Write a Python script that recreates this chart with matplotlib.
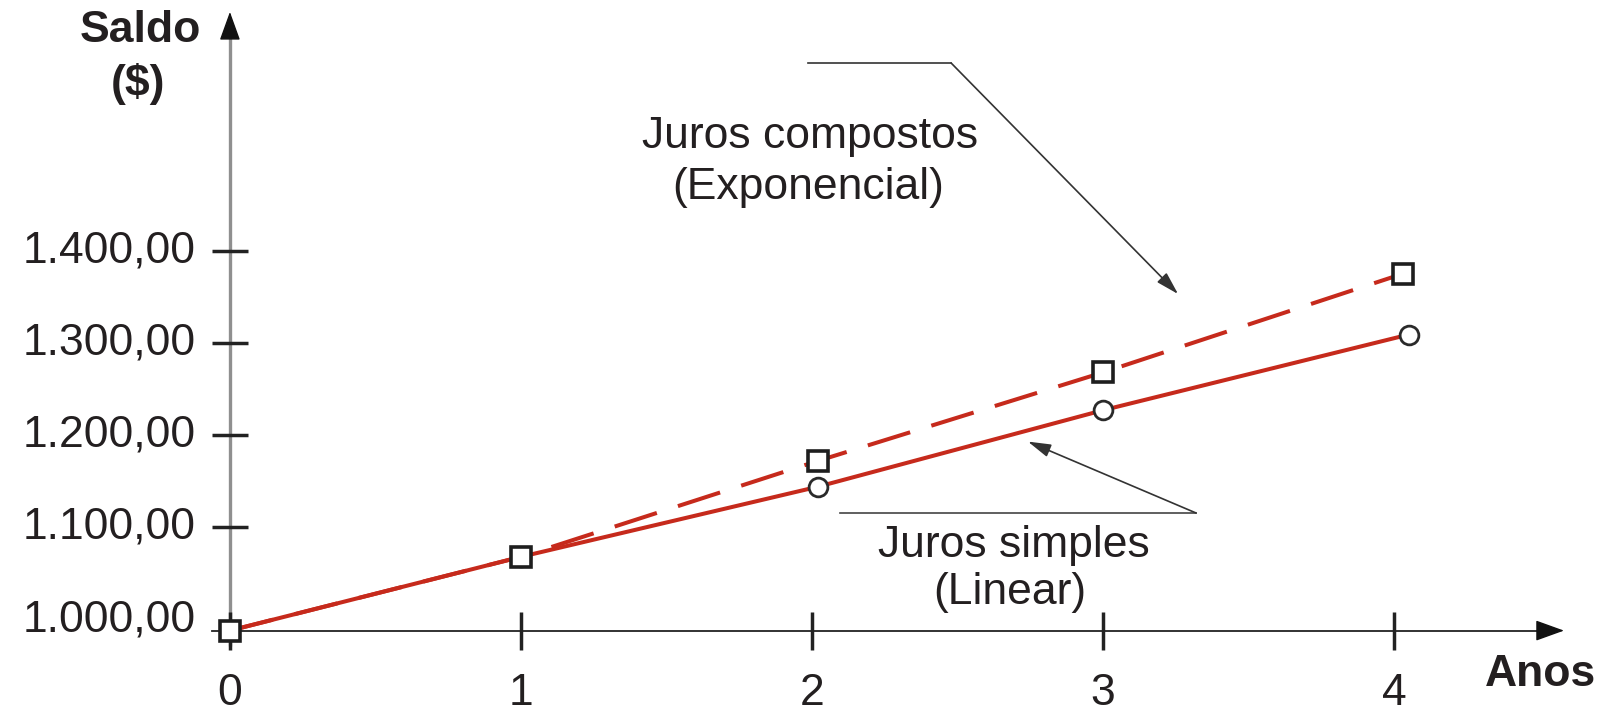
import numpy as np
import matplotlib.pyplot as plt

plt.rcParams['font.family'] = ['Liberation Sans', 'DejaVu Sans']

# dados
anos = [0, 1, 2, 3, 4]
anos_compostos = [0, 1, 2.02, 3.0, 4.03]
anos_simples = [0, 1, 2.02, 3.0, 4.05]
saldo_compostos = [988, 1068, 1172, 1268, 1375]
saldo_simples = [988, 1068, 1144, 1227, 1309]
ticks_saldo = [1000, 1100, 1200, 1300, 1400]
rotulos_saldo = ['1.000,00', '1.100,00', '1.200,00', '1.300,00', '1.400,00']
rotulos_anos = ['0', '1', '2', '3', '4']
base_eixo = 988

vermelho = '#c62a1c'
texto = '#231f20'
fs = 32

fig = plt.figure(figsize=(16.03, 7.11), dpi=100)
ax = fig.add_axes([0, 0, 1, 1])
ax.set_xlim(-0.790, 4.718)
ax.set_ylim(900.8, 1671.9)
ax.axis('off')

# eixo y (cinza) com seta preta
ax.plot([0, 0], [971, 1640], color='#8f8f8f', lw=2.4, zorder=1, solid_capstyle='butt')
ax.annotate('', xy=(0, 1659), xytext=(0, 1632),
            arrowprops=dict(arrowstyle='-|>,head_length=1.8,head_width=0.65',
                            color='#111111', lw=1, shrinkA=0, shrinkB=0))

# eixo x com seta
ax.plot([-0.062, 4.50], [base_eixo, base_eixo], color='#222222', lw=1.3, zorder=1)
ax.annotate('', xy=(4.584, base_eixo), xytext=(4.50, base_eixo),
            arrowprops=dict(arrowstyle='-|>,head_length=1.8,head_width=0.65',
                            color='#111111', lw=1, shrinkA=0, shrinkB=0))

# marcas dos eixos
ax.plot(anos, [base_eixo] * len(anos), ls='', marker='|', ms=27, mew=2.5,
        color='#222222', zorder=3)
ax.plot([0] * 4, ticks_saldo[1:], ls='', marker='_', ms=26, mew=2.5,
        color='#222222', zorder=3)

for v, r in zip(ticks_saldo, rotulos_saldo):
    ax.text(-0.117, v, r, ha='right', va='center', fontsize=fs, color=texto)
for a, r in zip(anos, rotulos_anos):
    ax.text(a, 920, r, ha='center', va='center', fontsize=fs, color=texto)

# curvas
ax.plot(anos_simples, saldo_simples, color=vermelho, lw=2.9, zorder=2)
ax.plot(anos_compostos, saldo_compostos, color=vermelho, lw=2.9, dashes=(11, 5.5), zorder=2)
ax.plot(anos_simples[1:], saldo_simples[1:], ls='', marker='o', ms=13.5, mfc='white',
        mec='#2a2a2a', mew=2.0, zorder=4)
ax.plot(anos_compostos, saldo_compostos, ls='', marker='s', ms=15, mfc='white',
        mec='#1e1e1e', mew=2.6, zorder=5)

# títulos dos eixos
ax.text(-0.306, 1638.5, 'Saldo', ha='center', va='center', fontsize=fs,
        fontweight='bold', color=texto)
ax.text(-0.316, 1581, '($)', ha='center', va='center', fontsize=fs,
        fontweight='bold', color=texto)
ax.text(4.505, 940, 'Anos', ha='center', va='center', fontsize=fs,
        fontweight='bold', color=texto)

# chamadas
ax.text(1.993, 1524.4, 'Juros compostos', ha='center', va='center', fontsize=fs, color=texto)
ax.text(1.986, 1469, '(Exponencial)', ha='center', va='center', fontsize=fs, color=texto)
ax.plot([1.986, 2.478], [1603.6, 1603.6], color='#333333', lw=1.2)
ax.annotate('', xy=(3.258, 1353), xytext=(2.478, 1603.6),
            arrowprops=dict(arrowstyle='-|>,head_length=1.4,head_width=0.4',
                            color='#333333', lw=1.2, shrinkA=0, shrinkB=0))

ax.text(2.694, 1080.8, 'Juros simples', ha='center', va='center', fontsize=fs, color=texto)
ax.text(2.680, 1028.8, '(Linear)', ha='center', va='center', fontsize=fs, color=texto)
ax.plot([2.096, 3.320], [1115.5, 1115.5], color='#444444', lw=1.2)
ax.annotate('', xy=(2.742, 1193), xytext=(3.320, 1115.5),
            arrowprops=dict(arrowstyle='-|>,head_length=1.4,head_width=0.4',
                            color='#333333', lw=1.2, shrinkA=0, shrinkB=0))

fig.savefig('out.png', dpi=100, facecolor='white')
